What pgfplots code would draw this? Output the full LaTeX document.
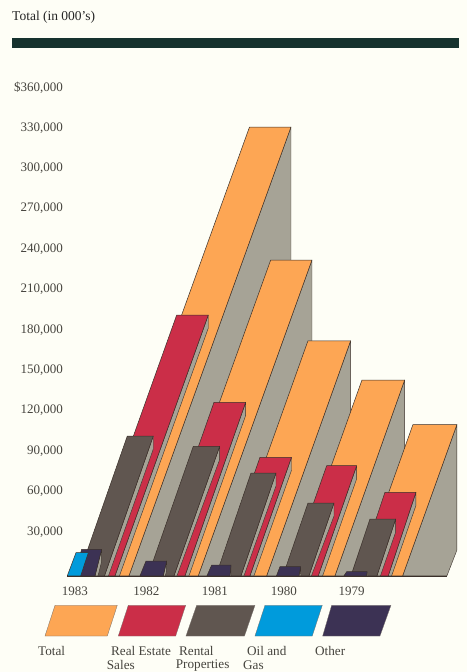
\documentclass[border=0pt]{standalone}
\usepackage{pgfplots}
\pgfplotsset{compat=1.18}
\usepackage{fontspec}
\setmainfont{Liberation Serif}
\definecolor{paper}{RGB}{254,254,246}
\definecolor{inkline}{RGB}{58,48,42}
\definecolor{txt}{RGB}{70,68,62}
\definecolor{sidegray}{RGB}{166,163,150}
\definecolor{total}{RGB}{253,166,84}
\definecolor{realestate}{RGB}{203,46,72}
\definecolor{rental}{RGB}{96,86,80}
\definecolor{oilgas}{RGB}{0,155,220}
\definecolor{other}{RGB}{60,50,84}
\definecolor{rulecol}{RGB}{22,50,46}

% Slanted face of a bar: top-left x, top-right x, value, base-left x, base-right x, colour
\newcommand{\barface}[6]{%
  \addplot[fill=#6,draw=inkline,line width=0.5pt,line join=round] coordinates
    {(#1,#3) (#2,#3) (#5,-2750) (#4,-2750)} -- cycle;}
% Shaded side of a bar: top-right x, value, lower end of vertical edge, foot x, base-right x
\newcommand{\barside}[5]{%
  \addplot[fill=sidegray,draw=inkline,line width=0.4pt,line join=round] coordinates
    {(#1,#2) (#1,#3) (#4,-2750) (#5,-2750)} -- cycle;}
% Legend swatch: top-left, top-right, base-left, base-right x, colour
\newcommand{\swatch}[5]{%
  \addplot[fill=#5,draw=inkline!70,line width=0.3pt] coordinates
    {(#1,-24650) (#2,-24650) (#4,-47450) (#3,-47450)} -- cycle;}

\begin{document}
\begin{tikzpicture}[x=1pt,y=1pt]
\begin{axis}[
  scale only axis, width=403pt, height=575.8pt,
  xmin=64, xmax=467, ymin=-2750, ymax=424830,
  clip=false,
  axis line style={draw=none},
  major tick length=0pt,
  scaled y ticks=false,
  xtick={75,146.3,214.8,284,351.7},
  xticklabels={1983,1982,1981,1980,1979},
  ytick={30000,60000,90000,120000,150000,180000,210000,240000,270000,300000,330000,360000},
  yticklabels={{30,000},{60,000},{90,000},{120,000},{150,000},{180,000},{210,000},{240,000},{270,000},{300,000},{330,000},{\$360,000}},
  tick label style={font=\fontsize{13}{13}\selectfont,text=txt},
  yticklabel style={anchor=east,inner sep=0pt,xshift=-1pt},
  xticklabel style={anchor=center,inner sep=0pt,yshift=-15pt},
  set layers=standard,
]
% paper
\begin{pgfonlayer}{axis background}
\fill[paper] (axis cs:0,424830) rectangle (axis cs:467,-74180);
\end{pgfonlayer}

% heading rule
\addplot[fill=rulecol,draw=none] coordinates {(12,396400) (459,396400) (459,389500) (12,389500)} -- cycle;

% 1983
\barside{291}{330500}{16400}{281}{129}
\barface{249.5}{291}{330500}{87.5}{129}{total}
\barside{208.3}{190900}{181200}{119.5}{115}
\barface{176.7}{208.3}{190900}{83.4}{115}{realestate}
\barside{153.3}{101060}{91400}{108.5}{104.5}
\barface{127.3}{153.3}{101060}{78.5}{104.5}{rental}
\barside{101.7}{16930}{8000}{98}{95}
\barface{81.7}{101.7}{16930}{74}{95}{other}
\barface{76}{88.3}{14400}{67.3}{80.7}{oilgas}
% 1982
\barside{312}{231760}{16400}{302}{198.3}
\barface{270.7}{312}{231760}{157}{198.3}{total}
\barside{245.7}{126090}{116400}{189}{185}
\barface{214}{245.7}{126090}{153}{185}{realestate}
\barside{219.7}{93400}{83700}{177}{174}
\barface{193.3}{219.7}{93400}{148}{174}{rental}
\barside{166.7}{8240}{1200}{165.3}{163.3}
\barface{146}{166.7}{8240}{140}{163.3}{other}
% 1981
\barside{350.7}{171830}{16400}{340.7}{266.7}
\barface{308}{350.7}{171830}{224}{266.7}{total}
\barside{291.5}{85250}{75550}{254}{250}
\barface{260}{291.5}{85250}{218.5}{250}{realestate}
\barside{276}{73590}{63900}{244}{241}
\barface{251}{276}{73590}{216}{241}{rental}
\barside{231}{5270}{-500}{231.5}{230}
\barface{211.7}{231}{5270}{207}{230}{other}
% 1980
\barside{404.7}{142650}{16400}{394.7}{335}
\barface{362}{404.7}{142650}{292}{335}{total}
\barside{356.7}{79000}{69300}{322.7}{318.3}
\barface{326.7}{356.7}{79000}{288}{318.3}{realestate}
\barside{334}{51310}{41600}{311.5}{309}
\barface{308}{334}{51310}{283}{309}{rental}
\barside{300.7}{4010}{-1000}{301}{299}
\barface{280}{300.7}{4010}{276.5}{299}{other}
% 1979
\barside{457}{109600}{16400}{447}{402.7}
\barface{413}{457}{109600}{359}{402.7}{total}
\barside{416}{59260}{49560}{391.7}{388.3}
\barface{385}{416}{59260}{357}{388.3}{realestate}
\barside{395.7}{39430}{29700}{380.5}{377}
\barface{370}{395.7}{39430}{351}{377}{rental}
\barside{367.3}{300}{-1500}{367.3}{366.5}
\barface{346.7}{367.3}{300}{344}{366.5}{other}

% ground line
\addplot[draw=inkline,line width=0.6pt] coordinates {(67,-2750) (447,-2750)};

% legend swatches
\swatch{55}{117.3}{45}{107.3}{total}
\swatch{128.3}{185.7}{118.3}{175.7}{realestate}
\swatch{196.7}{255}{186}{244.5}{rental}
\swatch{265}{322.3}{255}{312.3}{oilgas}
\swatch{331.7}{391}{322.7}{380}{other}

% heading and legend text
\begin{scope}[every node/.style={anchor=west,inner sep=0pt,text=txt,font=\fontsize{13.2}{13.2}\selectfont}]
\node[text=black!85,font=\fontsize{13.5}{13.5}\selectfont] at (axis cs:12,412000) {Total (in 000's)};
\node at (axis cs:38,-58400) {Total};
\node at (axis cs:111,-58400) {Real Estate};
\node at (axis cs:106.7,-69200) {Sales};
\node at (axis cs:179,-58400) {Rental};
\node at (axis cs:175.7,-69200) {Properties};
\node at (axis cs:247,-58400) {Oil and};
\node at (axis cs:243,-69200) {Gas};
\node at (axis cs:315,-58400) {Other};
\end{scope}
\end{axis}
\end{tikzpicture}
\end{document}
